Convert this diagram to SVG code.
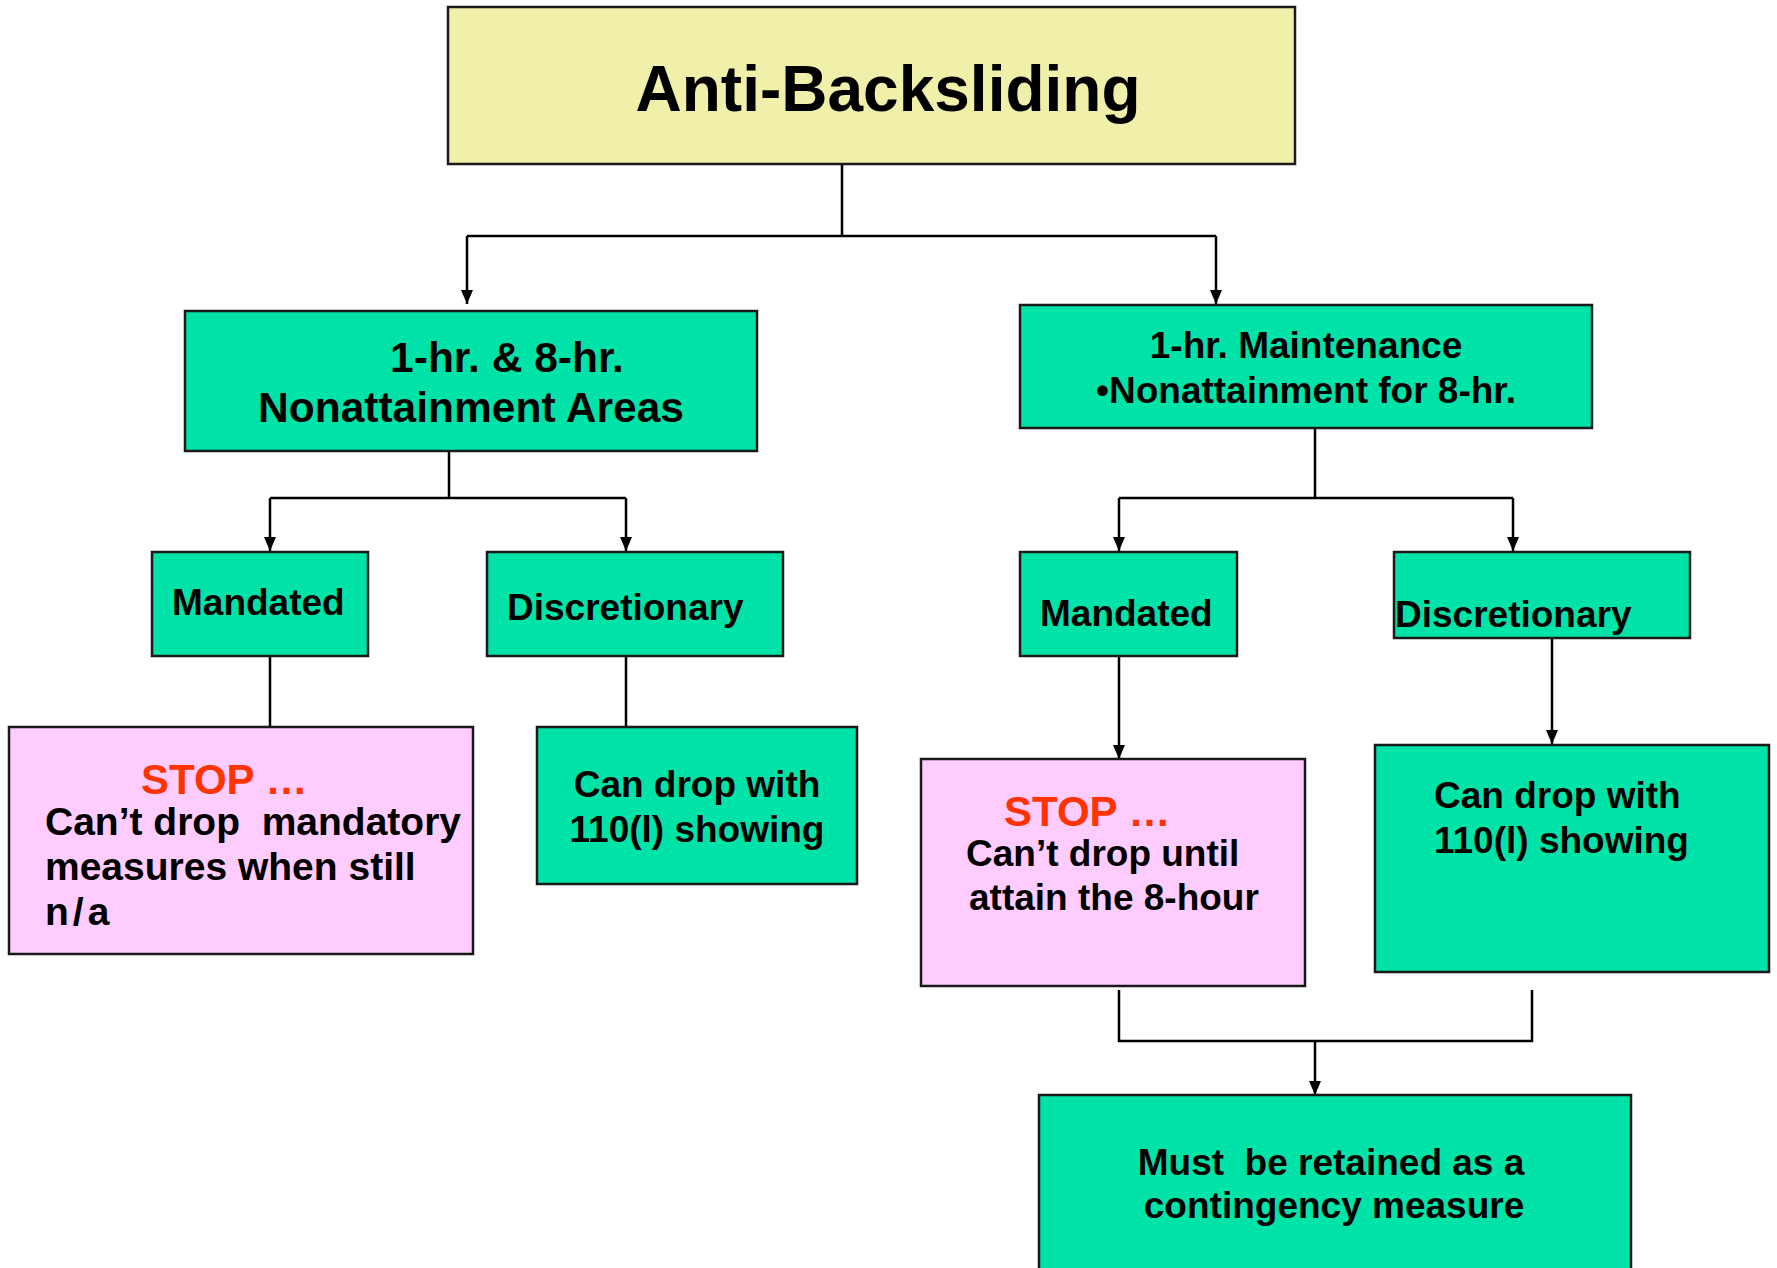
<svg xmlns="http://www.w3.org/2000/svg" width="1777" height="1268" viewBox="0 0 1777 1268">
<style>
.box{stroke:#1a1a1a;stroke-width:2.5}
.yel{fill:#F0F0AA}
.grn{fill:#00E3A8}
.pnk{fill:#FFCCFF}
text{font-family:"Liberation Sans",Arial,sans-serif;font-weight:bold;fill:#000;white-space:pre}
.t37{font-size:37px}
.t39{font-size:39px}
.red{fill:#FF3300;font-size:42px}
.ln{fill:none;stroke:#000;stroke-width:2.5}
</style>
<defs>
<marker id="ah" markerUnits="userSpaceOnUse" markerWidth="14" markerHeight="12" refX="14" refY="6" orient="auto">
<path d="M0,0 L14,6 L0,12 z" fill="#000"/>
</marker>
</defs>
<rect width="1777" height="1268" fill="#fff"/>
<g id="connectors">
<path class="ln" d="M842,164 V236 M467,236 H1216"/>
<path class="ln" d="M467,236 V304" marker-end="url(#ah)"/>
<path class="ln" d="M1216,236 V304" marker-end="url(#ah)"/>
<path class="ln" d="M449,448 V498 M270,498 H626"/>
<path class="ln" d="M270,498 V551" marker-end="url(#ah)"/>
<path class="ln" d="M626,498 V551" marker-end="url(#ah)"/>
<path class="ln" d="M1315,428 V498 M1119,498 H1513"/>
<path class="ln" d="M1119,498 V551" marker-end="url(#ah)"/>
<path class="ln" d="M1513,498 V551" marker-end="url(#ah)"/>
<path class="ln" d="M270,656 V727 M626,656 V727"/>
<path class="ln" d="M1119,656 V759" marker-end="url(#ah)"/>
<path class="ln" d="M1552,638 V744" marker-end="url(#ah)"/>
<path class="ln" d="M1119,990 V1041 H1532 V990"/>
<path class="ln" d="M1315,1041 V1095" marker-end="url(#ah)"/>
</g>
<g id="anti-backsliding">
<rect class="box yel" x="448" y="7" width="847" height="157"/>
<text x="888" y="111" font-size="64" text-anchor="middle">Anti-Backsliding</text>
</g>
<g id="nonattainment-areas">
<rect class="box grn" x="185" y="311" width="572" height="140"/>
<text x="507" y="372" font-size="42.5" text-anchor="middle">1-hr. &amp; 8-hr.</text>
<text x="471" y="422" font-size="42.5" text-anchor="middle">Nonattainment Areas</text>
</g>
<g id="maintenance">
<rect class="box grn" x="1020" y="305" width="572" height="123"/>
<text x="1306" y="358" font-size="37" text-anchor="middle">1-hr. Maintenance</text>
<text x="1306" y="403" font-size="37" text-anchor="middle">•Nonattainment for 8-hr.</text>
</g>
<g id="mandated-left">
<rect class="box grn" x="152" y="552" width="216" height="104"/>
<text class="t37" x="172" y="615">Mandated</text>
</g>
<g id="discretionary-left">
<rect class="box grn" x="487" y="552" width="296" height="104"/>
<text class="t37" x="507" y="620">Discretionary</text>
</g>
<g id="mandated-right">
<rect class="box grn" x="1020" y="552" width="217" height="104"/>
<text class="t37" x="1040" y="626">Mandated</text>
</g>
<g id="discretionary-right">
<rect class="box grn" x="1394" y="552" width="296" height="86"/>
<text class="t37" x="1395" y="627">Discretionary</text>
</g>
<g id="stop-left">
<rect class="box pnk" x="9" y="727" width="464" height="227"/>
<text class="red" x="141" y="794">STOP …</text>
<text class="t39" x="45" y="835">Can’t drop  mandatory</text>
<text class="t39" x="45" y="880">measures when still</text>
<text class="t39" x="45" y="925" letter-spacing="4">n/a</text>
</g>
<g id="can-drop-left">
<rect class="box grn" x="537" y="727" width="320" height="157"/>
<text class="t37" x="697" y="797" text-anchor="middle">Can drop with</text>
<text class="t37" x="697" y="842" text-anchor="middle">110(l) showing</text>
</g>
<g id="stop-right">
<rect class="box pnk" x="921" y="759" width="384" height="227"/>
<text class="red" x="1004" y="826">STOP …</text>
<text class="t37" x="966" y="866">Can’t drop until</text>
<text class="t37" x="969" y="910">attain the 8-hour</text>
</g>
<g id="can-drop-right">
<rect class="box grn" x="1375" y="745" width="394" height="227"/>
<text class="t37" x="1434" y="808">Can drop with</text>
<text class="t37" x="1434" y="853">110(l) showing</text>
</g>
<g id="contingency">
<rect class="box grn" x="1039" y="1095" width="592" height="190"/>
<text class="t37" x="1331" y="1175" text-anchor="middle">Must  be retained as a</text>
<text class="t37" x="1334" y="1218" text-anchor="middle">contingency measure</text>
</g>
</svg>
